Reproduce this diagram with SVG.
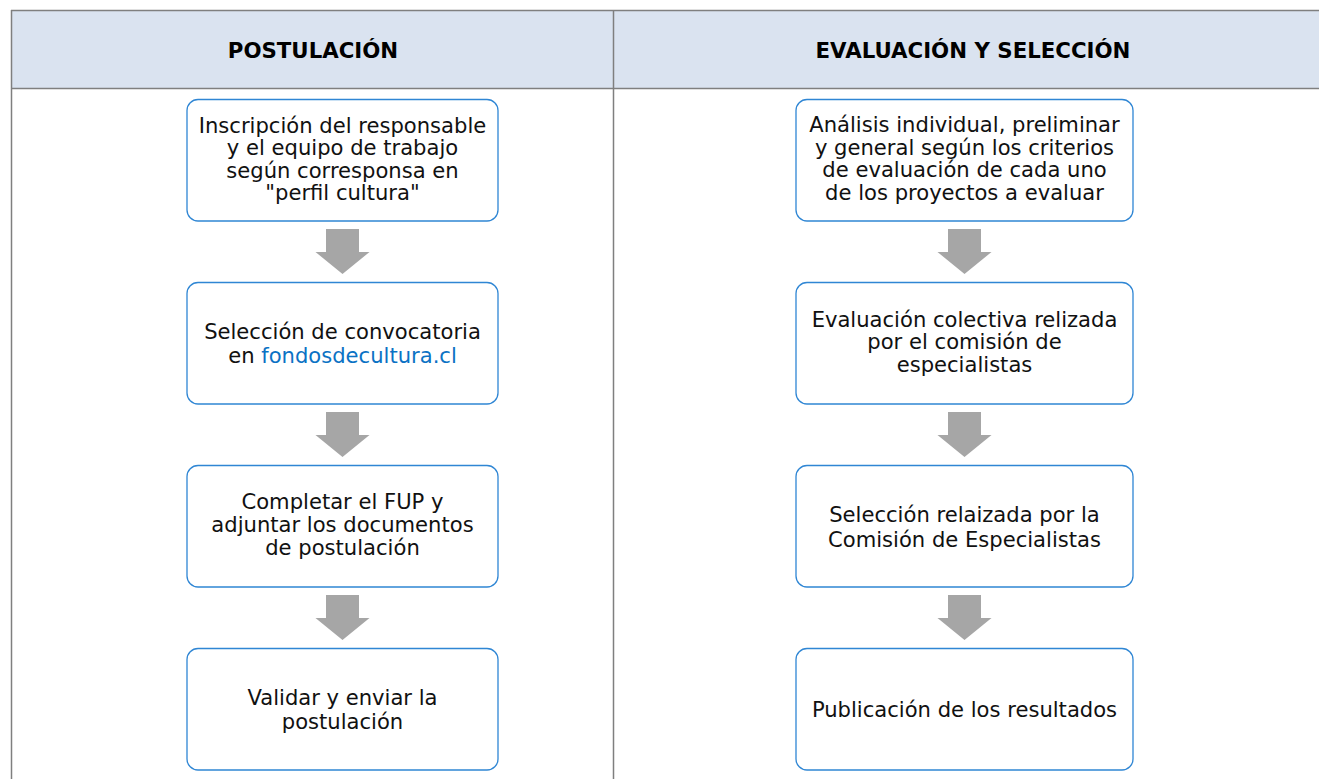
<svg xmlns="http://www.w3.org/2000/svg" width="1319" height="779" viewBox="0 0 1319 779">
<defs>
<style>
.grid{stroke:#7f7f7f;stroke-width:1.5;fill:none}
.box{fill:#ffffff;stroke:#2f86d4;stroke-width:1.3}
.t{font-family:"DejaVu Sans","Verdana",sans-serif;font-size:21.1px;fill:#111111;text-anchor:middle}
.h{font-family:"DejaVu Sans","Verdana",sans-serif;font-size:21.3px;font-weight:bold;fill:#000000;text-anchor:middle}
.link{fill:#0b72c4}
.arrow{fill:#a6a6a6}
</style>
<path id="dn" class="arrow" d="M-16.5,0 H16.5 V23 H27 L0,45 L-27,23 H-16.5 Z"/>
</defs>
<rect width="1319" height="779" fill="#ffffff"/>
<g id="table">
<rect x="11" y="10.5" width="1320" height="78" fill="#dae3f0"/>
<line class="grid" x1="11" y1="10.5" x2="1319" y2="10.5"/>
<line class="grid" x1="11" y1="88.5" x2="1319" y2="88.5"/>
<line class="grid" x1="11.5" y1="10" x2="11.5" y2="779"/>
<line class="grid" x1="613.5" y1="10" x2="613.5" y2="779"/>
<text class="h" x="313" y="57.5">POSTULACIÓN</text>
<text class="h" x="973" y="57.5">EVALUACIÓN Y SELECCIÓN</text>
</g>
<g id="connectors">
<use href="#dn" x="342.5" y="229"/>
<use href="#dn" x="342.5" y="412"/>
<use href="#dn" x="342.5" y="595"/>
<use href="#dn" x="964.5" y="229"/>
<use href="#dn" x="964.5" y="412"/>
<use href="#dn" x="964.5" y="595"/>
</g>
<g id="l1">
<rect class="box" x="187" y="99.5" width="311" height="121.5" rx="11"/>
<text class="t" x="342.5" y="132.5">Inscripción del responsable</text>
<text class="t" x="342.5" y="155">y el equipo de trabajo</text>
<text class="t" x="342.5" y="177.5">según corresponsa en</text>
<text class="t" x="342.5" y="200">"perfil cultura"</text>
</g>
<g id="l2">
<rect class="box" x="187" y="282.5" width="311" height="121.5" rx="11"/>
<text class="t" x="342.5" y="338.5">Selección de convocatoria</text>
<text class="t" x="342.5" y="363">en <tspan class="link">fondosdecultura.cl</tspan></text>
</g>
<g id="l3">
<rect class="box" x="187" y="465.5" width="311" height="121.5" rx="11"/>
<text class="t" x="342.5" y="508.5">Completar el FUP y</text>
<text class="t" x="342.5" y="531.5">adjuntar los documentos</text>
<text class="t" x="342.5" y="554.5">de postulación</text>
</g>
<g id="l4">
<rect class="box" x="187" y="648.5" width="311" height="121.5" rx="11"/>
<text class="t" x="342.5" y="704.5">Validar y enviar la</text>
<text class="t" x="342.5" y="729">postulación</text>
</g>
<g id="r1">
<rect class="box" x="796" y="99.5" width="337" height="121.5" rx="11"/>
<text class="t" x="964.5" y="132">Análisis individual, preliminar</text>
<text class="t" x="964.5" y="154.5">y general según los criterios</text>
<text class="t" x="964.5" y="177">de evaluación de cada uno</text>
<text class="t" x="964.5" y="199.5">de los proyectos a evaluar</text>
</g>
<g id="r2">
<rect class="box" x="796" y="282.5" width="337" height="121.5" rx="11"/>
<text class="t" x="964.5" y="326.5">Evaluación colectiva relizada</text>
<text class="t" x="964.5" y="349">por el comisión de</text>
<text class="t" x="964.5" y="371.5">especialistas</text>
</g>
<g id="r3">
<rect class="box" x="796" y="465.5" width="337" height="121.5" rx="11"/>
<text class="t" x="964.5" y="522">Selección relaizada por la</text>
<text class="t" x="964.5" y="546.5">Comisión de Especialistas</text>
</g>
<g id="r4">
<rect class="box" x="796" y="648.5" width="337" height="121.5" rx="11"/>
<text class="t" x="964.5" y="717">Publicación de los resultados</text>
</g>
</svg>
